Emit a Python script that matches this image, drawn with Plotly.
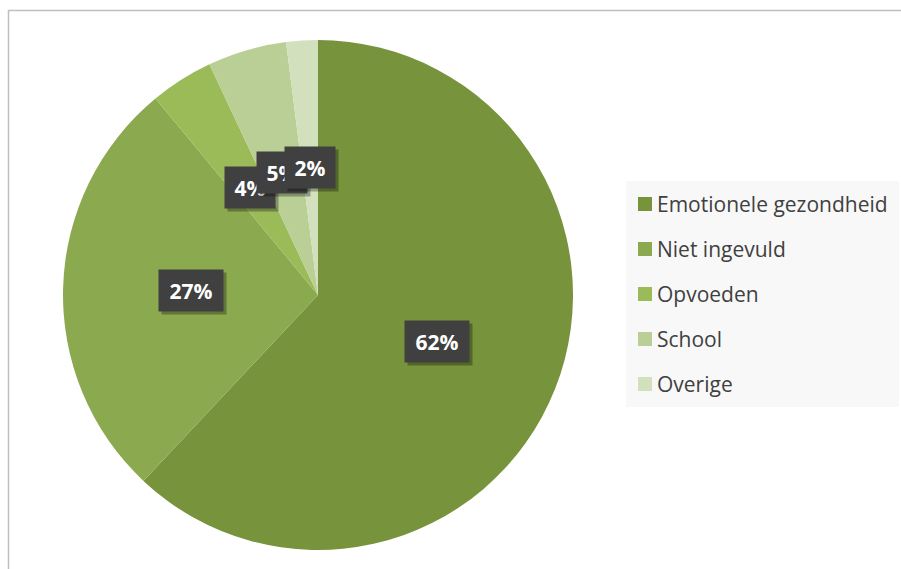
import math
import plotly.graph_objects as go

categories = ["Emotionele gezondheid", "Niet ingevuld", "Opvoeden", "School", "Overige"]
values = [62, 27, 4, 5, 2]
colors = ["#77933C", "#8BA94F", "#9BBB59", "#B9CF96", "#D3E0BD"]

W, H = 901, 569
CX, CY, R = 318, 295, 255

fig = go.Figure(go.Pie(
    labels=categories, values=values, sort=False, direction="clockwise", rotation=0,
    marker=dict(colors=colors, line=dict(width=0)), textinfo="none", showlegend=False,
    domain=dict(x=[(CX - R) / W, (CX + R) / W], y=[(H - CY - R) / H, (H - CY + R) / H]),
))

shapes = [dict(type="rect", xref="paper", yref="paper", x0=8.5 / W, x1=(W + 5) / W,
               y0=-5 / H, y1=1 - 10.5 / H, line=dict(color="#BFBFBF", width=1.5))]
annotations = []

# data labels at the middle of each slice
total = sum(values)
cum = 0
for v in values:
    mid = (cum + v / 2) / total * 2 * math.pi
    cum += v
    lx = CX + 0.5 * R * math.sin(mid)
    ly = CY - 0.5 * R * math.cos(mid)
    txt = f"{round(v / total * 100)}%"
    w = 64 if len(txt) > 2 else 50
    for dx, dy, bg in [(3, -3, "rgba(0,0,0,0.30)"), (0, 0, "#404040")]:
        annotations.append(dict(
            x=lx / W, y=1 - ly / H, xref="paper", yref="paper", showarrow=False,
            xanchor="center", yanchor="middle",
            text=txt if bg == "#404040" else "", width=w, height=41, borderpad=0,
            bgcolor=bg, xshift=dx, yshift=dy,
            font=dict(family="Open Sans", size=21, color="white", weight="bold"),
        ))

# legend
LX0, LX1, LY0, LY1 = 626, 899, 181, 407
shapes.append(dict(type="rect", xref="paper", yref="paper", x0=LX0 / W, x1=LX1 / W,
                   y0=1 - LY1 / H, y1=1 - LY0 / H, fillcolor="#F8F8F8", line=dict(width=0), layer="below"))
for i, (c, col) in enumerate(zip(categories, colors)):
    yc = 204 + i * 45
    shapes.append(dict(type="rect", xref="paper", yref="paper", x0=638 / W, x1=652 / W,
                       y0=1 - (yc + 7) / H, y1=1 - (yc - 7) / H, fillcolor=col, line=dict(width=0)))
    annotations.append(dict(x=655 / W, y=1 - yc / H, xref="paper", yref="paper", showarrow=False,
                            xanchor="left", yanchor="middle", text=c,
                            font=dict(family="Open Sans", size=21, color="#404040")))

fig.update_layout(width=W, height=H, margin=dict(l=0, r=0, t=0, b=0),
                  paper_bgcolor="white", plot_bgcolor="white",
                  shapes=shapes, annotations=annotations)
fig.write_html("out.html", post_script="document.body.style.margin='0';",
               config={"displayModeBar": False})
